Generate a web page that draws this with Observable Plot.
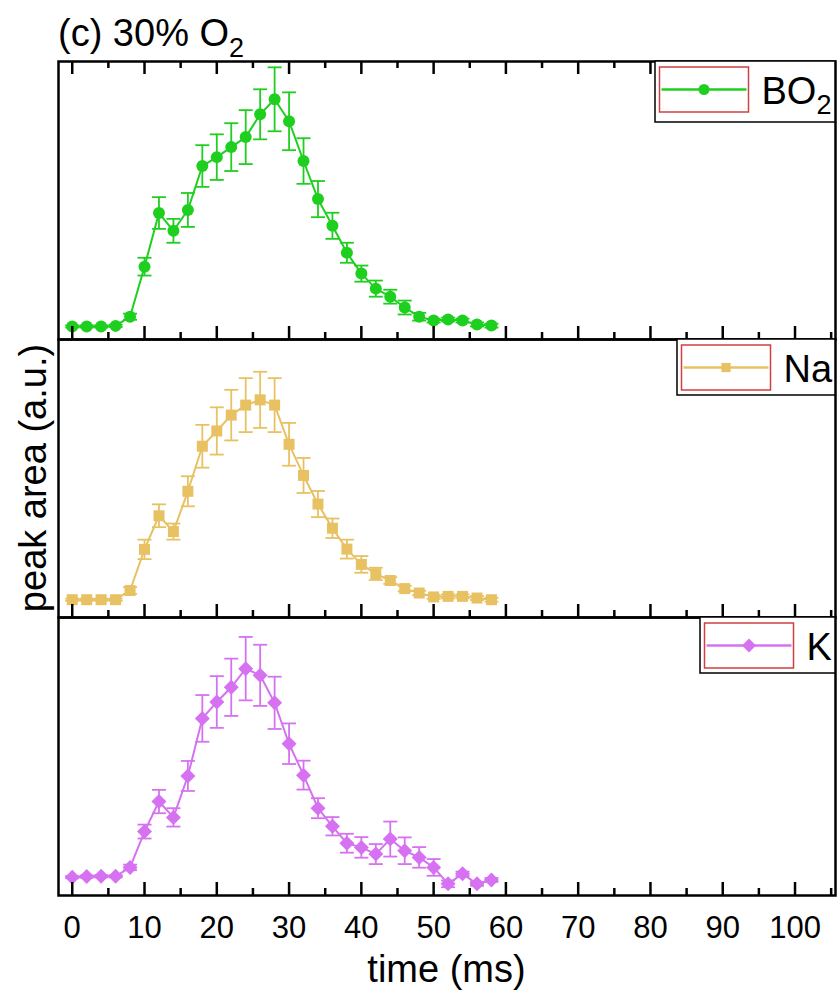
<!DOCTYPE html>
<html><head><meta charset="utf-8">
<script src="https://cdn.jsdelivr.net/npm/d3@7"></script>
<script src="https://cdn.jsdelivr.net/npm/@observablehq/plot@0.6"></script>
<style>
html,body{margin:0;padding:0;background:#fff;}
#chart{width:839px;height:995px;}
</style></head><body><div id="chart"></div>
<script>
// ---- data (peak area, arbitrary units) ----
const time = [0,2,4,6,8,10,12,14,16,18,20,22,24,26,28,30,32,34,36,38,40,42,44,46,48,50,52,54,56,58];
const seriesNames = ["BO2","Na","K"];
const seriesColors = ["#1fcf1f","#e8c163","#d672f2"];
const bo2 = [4.7,4.7,4.7,4.9,8.2,26.2,45.5,39.1,46.6,62.4,65.6,69.2,72.8,81.0,86.4,78.5,64.2,50.5,40.9,31.2,23.7,18.3,15.4,11.5,8.2,6.8,7.2,6.8,5.4,5.0];
const bo2Err = [0.4,0.4,0.4,0.4,1.1,3.2,5.7,4.3,6.1,7.5,8.2,8.6,9.7,9.0,11.5,10.4,8.2,6.5,4.7,3.6,2.9,2.9,2.5,2.5,1.4,0.7,0.7,0.7,0.7,0.7];
const na = [6.4,6.4,6.4,6.4,9.7,24.5,36.6,30.9,45.4,61.6,67.1,72.8,76.4,78.3,76.4,62.3,51.1,40.8,32.1,24.6,19.1,15.7,13.3,10.4,8.8,7.4,7.6,7.6,7.0,6.4];
const naErr = [0.4,0.4,0.4,0.4,1.2,3.5,4.1,2.9,5.4,7.7,8.5,9.1,9.7,10.1,9.7,7.7,6.3,4.7,3.5,3.4,3.0,2.2,1.2,1.0,0.8,0.7,0.7,0.7,0.7,0.7];
const k = [6.6,6.8,6.9,6.9,10.1,23.0,33.8,28.1,43.0,63.7,69.6,74.9,81.6,79.2,69.3,54.6,43.3,31.4,24.9,18.8,17.3,14.9,20.3,16.1,13.7,10.1,4.2,7.8,4.2,5.6];
const kErr = [0.4,0.4,0.4,0.4,1.0,2.5,4.2,3.3,5.4,8.4,9.3,10.3,11.4,11.0,9.4,7.3,5.2,3.6,3.3,3.4,3.7,3.6,6.3,4.8,3.7,3.0,1.2,0.8,0.7,0.7];
const xTicks = [0,10,20,30,40,50,60,70,80,90,100];
const xMinorTicks = [5,15,25,35,45,55,65,75,85,95,105];
const titleText = "(c) 30% O";
const xLabel = "time (ms)";
const yLabel = "peak area (a.u.)";

const values = [bo2, na, k];
const errors = [bo2Err, naErr, kErr];
const rows = [];
seriesNames.forEach((s, i) => time.forEach((t, j) => rows.push({series: s, t, v: values[i][j], e: errors[i][j]})));

// symbols
const capSym = {draw(ctx, size) { const r = Math.sqrt(size / Math.PI); ctx.moveTo(-r, 0); ctx.lineTo(r, 0); }};
const diamondSym = {draw(ctx, size) { const r = Math.sqrt(size / Math.PI); ctx.moveTo(0, -r); ctx.lineTo(r, 0); ctx.lineTo(0, r); ctx.lineTo(-r, 0); ctx.closePath(); }};
const symbols = ["circle", "square", diamondSym];
const symbolR = [6, 6.2, 7.5];

const W = 839, H = 995, mTop = 61, mBottom = 100, mLeft = 58, mRight = 4;
const bandH = (H - mTop - mBottom) / 3;
const font = "'Liberation Sans', Arial, sans-serif";

const plot = Plot.plot({
  width: W, height: H,
  marginTop: mTop, marginBottom: mBottom, marginLeft: mLeft, marginRight: mRight,
  style: {fontFamily: font, fontSize: "31px", color: "black", background: "white"},
  x: {domain: [-1.9, 105.6]},
  y: {domain: [0, 100], axis: null},
  fy: {domain: seriesNames, padding: 0, axis: null, label: null},
  color: {domain: seriesNames, range: seriesColors},
  marks: [
    Plot.line(rows, {x: "t", y: "v", fy: "series", stroke: "series", strokeWidth: 2}),
    Plot.ruleX(rows, {x: "t", y1: d => d.v - d.e, y2: d => d.v + d.e, fy: "series", stroke: "series", strokeWidth: 1.8}),
    Plot.dot(rows, {x: "t", y: d => d.v + d.e, fy: "series", symbol: capSym, r: 7, stroke: "series", fill: "none", strokeWidth: 1.8}),
    Plot.dot(rows, {x: "t", y: d => d.v - d.e, fy: "series", symbol: capSym, r: 7, stroke: "series", fill: "none", strokeWidth: 1.8}),
    ...seriesNames.map((s, i) => Plot.dot(rows.filter(d => d.series === s), {x: "t", y: "v", fy: "series", symbol: symbols[i], r: symbolR[i], fill: seriesColors[i], stroke: "none"})),
    Plot.tickX(xTicks, {x: d => d, insetTop: bandH - 13, stroke: "black", strokeWidth: 2.5}),
    Plot.tickX(xMinorTicks, {x: d => d, insetTop: bandH - 7, stroke: "black", strokeWidth: 2.5}),
    Plot.tickX(xTicks, {x: d => d, fy: () => "BO2", insetBottom: bandH - 13, stroke: "black", strokeWidth: 2.5}),
    Plot.tickX(xMinorTicks, {x: d => d, fy: () => "BO2", insetBottom: bandH - 7, stroke: "black", strokeWidth: 2.5}),
    Plot.frame({stroke: "black", strokeWidth: 2.5}),
    Plot.axisX(xTicks, {tickSize: 0, tickPadding: 20, fontSize: 31, label: null})
  ]
});
document.getElementById("chart").appendChild(plot);

// ---- annotations: title, axis labels, legends ----
const svg = d3.select(plot);
const ann = svg.append("g").attr("font-family", font).attr("fill", "black").attr("text-anchor", "start");
const t = ann.append("text").attr("x", mLeft).attr("y", 46).attr("font-size", 38).attr("text-anchor", "start").text(titleText);
t.append("tspan").attr("font-size", 27).attr("dy", 11).text("2");
ann.append("text").attr("x", mLeft + (W - mLeft - mRight) / 2).attr("y", 982).attr("text-anchor", "middle").attr("font-size", 38).text(xLabel);
ann.append("text").attr("transform", `translate(46,${mTop + (H - mTop - mBottom) / 2}) rotate(-90)`).attr("text-anchor", "middle").attr("font-size", 38).text(yLabel);

const legendLeft = [655, 677, 700];
const legendH = [61, 56, 56];
const legendLabels = [["BO", "2"], ["Na", null], ["K", null]];
const legendMarkR = [5.5, 5.2, 7];
const frameRight = W - mRight;
seriesNames.forEach((s, i) => {
  const top = mTop + i * bandH;
  const g = ann.append("g");
  const L = legendLeft[i];
  g.append("rect").attr("x", L).attr("y", top).attr("width", frameRight - L).attr("height", legendH[i])
    .attr("fill", "white").attr("stroke", "black").attr("stroke-width", 1.5);
  const rx = L + 4.5, ry = top + 6, rw = 89, rh = 45;
  g.append("rect").attr("x", rx).attr("y", ry).attr("width", rw).attr("height", rh)
    .attr("fill", "none").attr("stroke", "#d04040").attr("stroke-width", 1.5);
  const cy = ry + rh / 2, cx = rx + rw / 2;
  g.append("line").attr("x1", rx + 2).attr("x2", rx + rw - 2).attr("y1", cy).attr("y2", cy)
    .attr("stroke", seriesColors[i]).attr("stroke-width", 2.5);
  const sym = typeof symbols[i] === "string" ? (symbols[i] === "circle" ? d3.symbolCircle : d3.symbolSquare) : symbols[i];
  g.append("path").attr("transform", `translate(${cx},${cy})`)
    .attr("d", d3.symbol(sym, Math.PI * legendMarkR[i] ** 2)()).attr("fill", seriesColors[i]);
  const tx = g.append("text").attr("x", rx + rw + 13).attr("y", cy + 14).attr("font-size", 38).attr("text-anchor", "start").text(legendLabels[i][0]);
  if (legendLabels[i][1]) tx.append("tspan").attr("font-size", 27).attr("dy", 10).text(legendLabels[i][1]);
});
</script></body></html>
